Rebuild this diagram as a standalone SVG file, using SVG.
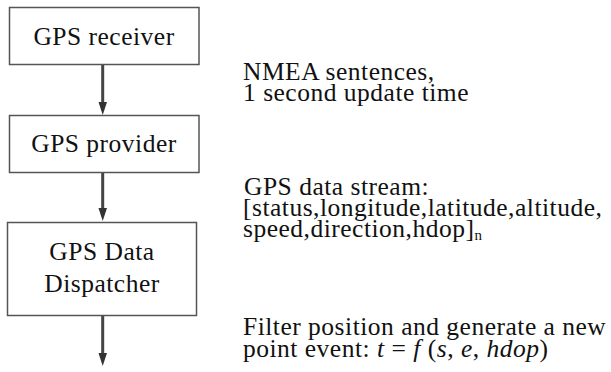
<svg xmlns="http://www.w3.org/2000/svg" width="611" height="372" viewBox="0 0 611 372">
<style>
.box{fill:#fff;stroke:#555;stroke-width:1.5}
.ln{stroke:#444;stroke-width:3;fill:none}
.hd{fill:#333}
</style>
<rect width="611" height="372" fill="#fff"/>
<g id="connectors">
<line class="ln" x1="102.7" y1="65" x2="102.7" y2="104"/>
<polygon class="hd" points="98.5,102 107,102 102.7,115"/>
<line class="ln" x1="102.7" y1="173" x2="102.7" y2="210"/>
<polygon class="hd" points="98.5,208 107,208 102.7,221"/>
<line class="ln" x1="102.7" y1="316" x2="102.7" y2="355"/>
<polygon class="hd" points="98.5,353 107,353 102.7,366"/>
</g>
<g font-family="Liberation Serif" font-size="25.5" letter-spacing="0.5" fill="#111">
<g id="receiver">
<rect class="box" x="9.5" y="7.5" width="189.5" height="57"/>
<text text-anchor="middle" x="104" y="45">GPS receiver</text>
</g>
<g id="provider">
<rect class="box" x="9.5" y="115.5" width="189.5" height="57"/>
<text text-anchor="middle" x="104" y="152">GPS provider</text>
</g>
<g id="dispatcher">
<rect class="box" x="7.5" y="222.5" width="189" height="93"/>
<text text-anchor="middle" x="102" y="260">GPS Data</text>
<text text-anchor="middle" x="102" y="292">Dispatcher</text>
</g>
<g id="labels">
<text x="243" y="80">NMEA sentences,</text>
<text x="243" y="101">1 second update time</text>
<text x="244" y="195">GPS data stream:</text>
<text x="243" y="216">[status,longitude,latitude,altitude,</text>
<text x="243" y="237">speed,direction,hdop]<tspan font-size="15" dy="3">n</tspan></text>
<text x="243" y="335">Filter position and generate a  new</text>
<text x="243" y="357">point event: <tspan font-style="italic">t</tspan> = <tspan font-style="italic">f</tspan> (<tspan font-style="italic">s</tspan>, <tspan font-style="italic">e</tspan>, <tspan font-style="italic">hdop</tspan>)</text>
</g>
</g>
</svg>
